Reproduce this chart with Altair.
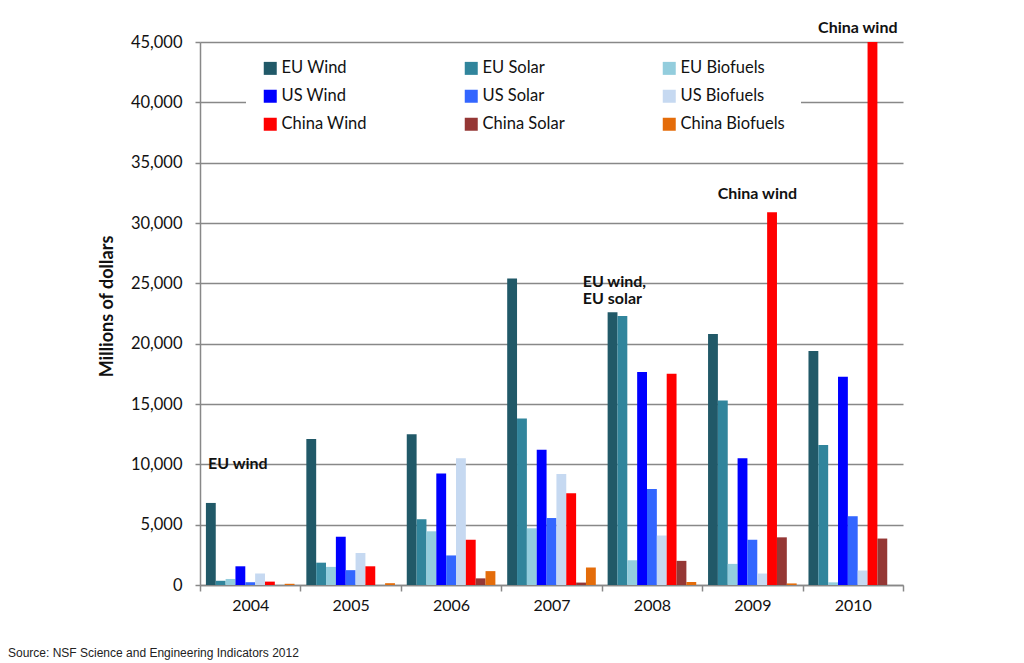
import altair as alt
import pandas as pd

years = ["2004", "2005", "2006", "2007", "2008", "2009", "2010"]
series = ["EU Wind", "EU Solar", "EU Biofuels",
          "US Wind", "US Solar", "US Biofuels",
          "China Wind", "China Solar", "China Biofuels"]
colors = ["#215968", "#31859C", "#93CDDD",
          "#0000FF", "#3366FF", "#C6D9F1",
          "#FF0000", "#953735", "#E46C0A"]

eu_wind = [6800, 12100, 12500, 25400, 22600, 20800, 19400]
eu_solar = [350, 1850, 5450, 13800, 22300, 15300, 11600]
eu_biofuels = [500, 1500, 4450, 4700, 2050, 1750, 220]
us_wind = [1550, 4000, 9250, 11200, 17650, 10500, 17250]
us_solar = [230, 1230, 2450, 5550, 7950, 3750, 5700]
us_biofuels = [950, 2650, 10500, 9200, 4100, 950, 1200]
china_wind = [280, 1550, 3750, 7600, 17500, 30900, 45000]
china_solar = [0, 0, 550, 200, 2000, 3950, 3850]
china_biofuels = [100, 150, 1150, 1450, 250, 130, 0]

y_ticks = [0, 5000, 10000, 15000, 20000, 25000, 30000, 35000, 40000, 45000]

ann_years = ["2004", "2008", "2009", "2010"]
ann_values = [10000, 25100, 32400, 46150]
ann_texts = ["EU wind", "EU wind,\nEU solar", "China wind", "China wind"]

source_text = "Source: NSF Science and Engineering Indicators 2012"

all_values = [eu_wind, eu_solar, eu_biofuels, us_wind, us_solar, us_biofuels,
              china_wind, china_solar, china_biofuels]
rows = []
for s, arr in zip(series, all_values):
    for y, v in zip(years, arr):
        rows.append({"year": y, "series": s, "value": v})
df = pd.DataFrame(rows)
ann = pd.DataFrame({"year": ann_years, "value": ann_values, "label": ann_texts})

FONT = "Lato"

x_scale = alt.Scale(domain=years, paddingInner=0, paddingOuter=0)
y_scale = alt.Scale(domain=[0, 45000], nice=False)

bars = alt.Chart(df).mark_bar().encode(
    x=alt.X("year:N", scale=x_scale,
            axis=alt.Axis(title=None, labelAngle=0, tickBand="extent", tickSize=6,
                          labelPadding=6, labelFontSize=16, labelColor="#111111",
                          domainColor="#888888", domainWidth=1.5,
                          tickColor="#888888", tickWidth=1.5, grid=False)),
    xOffset=alt.XOffset("series:N", sort=series,
                        scale=alt.Scale(paddingInner=0, paddingOuter=0.6)),
    y=alt.Y("value:Q", scale=y_scale,
            axis=alt.Axis(values=y_ticks, format=",d", title="Millions of dollars",
                          titleFontSize=18, titleFontWeight="bold", titleColor="#111111",
                          titlePadding=14, titleY=264,
                          labelFontSize=16.5, labelColor="#111111",
                          labelPadding=13, tickSize=5, tickColor="#888888", tickWidth=1.5,
                          domainColor="#888888", domainWidth=1.5,
                          gridColor="#888888", gridWidth=1.5)),
    color=alt.Color("series:N", sort=series,
                    scale=alt.Scale(domain=series, range=colors),
                    legend=alt.Legend(title=None, orient="none", legendX=46, legendY=2,
                                      columns=3, direction="horizontal",
                                      symbolType="square", symbolSize=169,
                                      symbolStrokeWidth=0, symbolOffset=0,
                                      labelOffset=3, labelFontSize=16.5,
                                      labelColor="#111111", labelFont=FONT,
                                      columnPadding=96, rowPadding=11,
                                      padding=16, fillColor="white")),
)

def ann_layer(year, align, dx, band_pos):
    return alt.Chart(ann).transform_filter(alt.datum.year == year).mark_text(
        font=FONT, fontSize=16, fontWeight="bold", color="#111111",
        align=align, baseline="middle", dx=dx, lineBreak="\n", lineHeight=17,
    ).encode(
        x=alt.X("year:N", scale=x_scale, bandPosition=band_pos),
        y=alt.Y("value:Q", scale=y_scale),
        text="label:N",
    )

layers = [
    bars,
    ann_layer("2004", "left", 8, 0),
    ann_layer("2008", "left", -19, 0),
    ann_layer("2009", "center", 5, 0.5),
    ann_layer("2010", "center", 5, 0.5),
]

chart = alt.layer(*layers).properties(
    width=703,
    height=543,
    autosize=alt.AutoSizeParams(type="none"),
    padding={"left": 192, "top": 34, "right": 100, "bottom": 76},
    title=alt.TitleParams(text=source_text, orient="bottom", anchor="start",
                          frame="group", dx=-192, offset=35,
                          font="Liberation Sans", fontSize=12,
                          fontWeight="normal", color="#222222"),
).configure(font=FONT).configure_view(strokeWidth=0)

chart.save("out.html", embed_options={"renderer": "svg", "actions": False})
